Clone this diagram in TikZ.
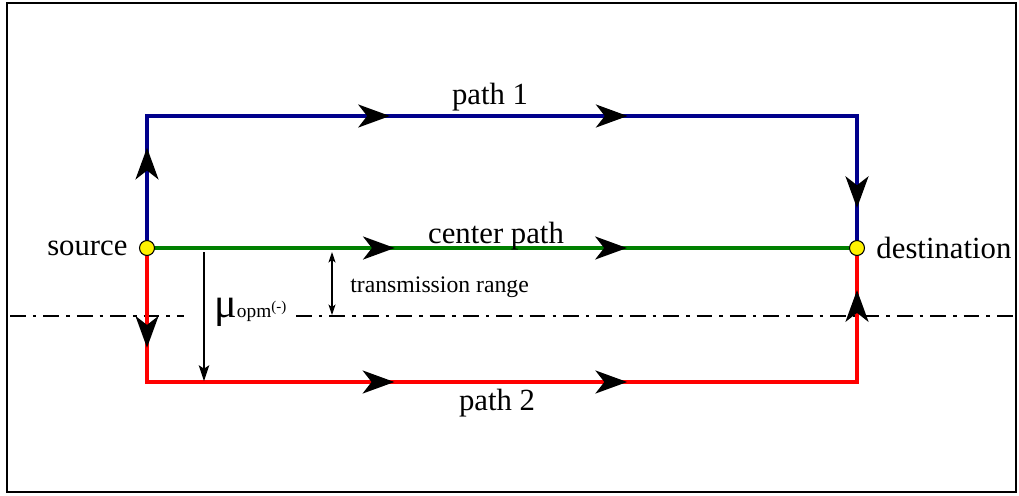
\documentclass[tikz,border=0pt]{standalone}
\usepackage{fontspec}
\setmainfont{Liberation Serif}
\usetikzlibrary{arrows.meta,decorations.markings,positioning}

\definecolor{pathblue}{RGB}{0,0,140}
\definecolor{pathgreen}{RGB}{0,128,0}
\definecolor{pathred}{RGB}{255,0,0}

\newcommand{\flowtip}{\arrow{Stealth[black,length=18pt,width=13pt,inset=5pt]}}

\tikzset{
  route/.style={line width=2.2pt,line join=miter,postaction={decorate}},
  endpoint/.style={circle,draw=black,fill=yellow,line width=0.6pt,inner sep=0pt,minimum size=8.5pt},
  lbl/.style={font=\fontsize{17.5}{20}\selectfont},
  small/.style={font=\fontsize{13.5}{15}\selectfont},
  measure/.style={line width=0.6pt},
  rangeline/.style={line width=1.1pt,dash pattern=on 9pt off 4pt on 2pt off 4pt},
}

\begin{document}
\begin{tikzpicture}[x=0.02cm,y=-0.02cm]
\useasboundingbox (0,0) rectangle (1019,495);
\draw[line width=1.2pt] (7,3) rectangle (1016,492);

% corners of the two detours
\coordinate (src) at (147,248);
\coordinate (dst) at (857,248);
\coordinate (tl) at (147,116);
\coordinate (tr) at (857,116);
\coordinate (bl) at (147,382);
\coordinate (br) at (857,382);

% edge of the transmission range, broken behind the mu label
\coordinate (rangeL) at (10,316);
\coordinate (gapL) at (184,316);
\coordinate (gapR) at (296,316);
\coordinate (rangeR) at (1019,316);
\draw[rangeline] (rangeL) -- (gapL);
\draw[rangeline] (gapR) -- (rangeR);

\draw[route,pathblue,decoration={markings,
    mark=at position 0.103 with {\flowtip},
    mark=at position 0.385 with {\flowtip},
    mark=at position 0.629 with {\flowtip},
    mark=at position 0.959 with {\flowtip}}]
  (src) -- (tl) -- (tr) -- (dst);
\draw[route,pathred,decoration={markings,
    mark=at position 0.102 with {\flowtip},
    mark=at position 0.390 with {\flowtip},
    mark=at position 0.628 with {\flowtip},
    mark=at position 0.957 with {\flowtip}}]
  (src) -- (bl) -- (br) -- (dst);
\draw[route,pathgreen,decoration={markings,
    mark=at position 0.349 with {\flowtip},
    mark=at position 0.676 with {\flowtip}}]
  (src) -- (dst);

\node[endpoint] (s) at (src) {};
\node[endpoint] (d) at (dst) {};
\node[lbl,left=3pt of s] {source};
\node[lbl,right=3pt of d] {destination};

\node[lbl,anchor=base] (p1) at (490,104) {path 1};
\node[lbl,anchor=base] (pc) at (496,243) {center path};
\node[lbl,anchor=base] (p2) at (497,410) {path 2};

% offset of the lower path and the range
\coordinate (muT) at (204,252);
\coordinate (muB) at (204,381);
\draw[measure,-{Stealth[length=9pt,width=6pt,inset=2pt]}] (muT) -- (muB);
\node[anchor=base west,inner sep=0pt] (mu) at (214,317)
  {\fontsize{24}{24}\selectfont μ\fontsize{11}{11}\selectfont opm\raisebox{3pt}{\fontsize{8.5}{9}\selectfont (-)}};

\coordinate (rngT) at (332,252);
\coordinate (rngB) at (332,315);
\draw[measure,{Stealth[length=6pt,width=4pt,inset=1.5pt]}-{Stealth[length=6pt,width=4pt,inset=1.5pt]}] (rngT) -- (rngB);
\node[small,anchor=base west,inner sep=0pt] (rangetxt) at (350,292) {transmission range};
\end{tikzpicture}
\end{document}
